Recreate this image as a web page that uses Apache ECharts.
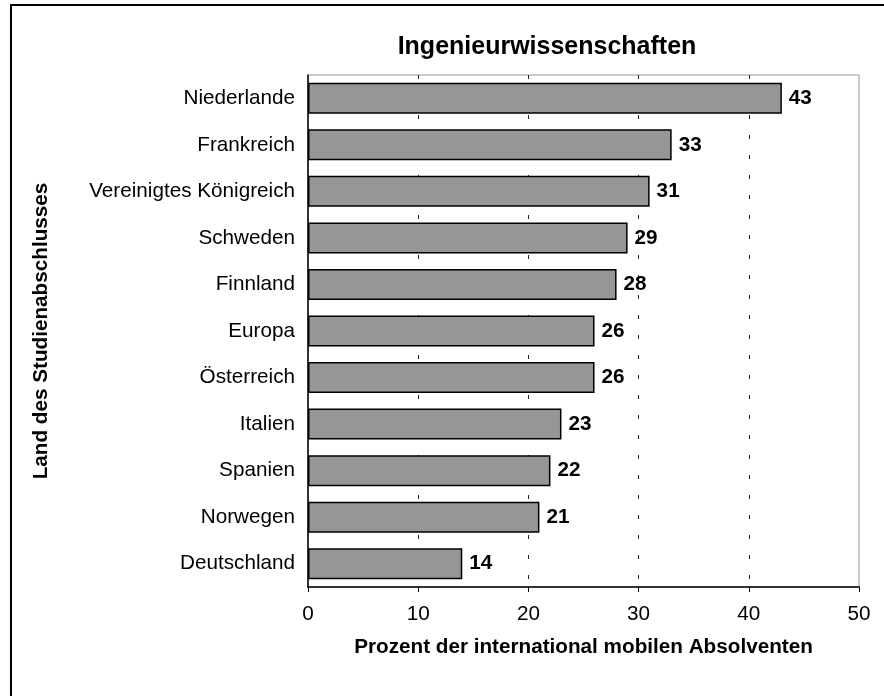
<!DOCTYPE html>
<html>
<head>
<meta charset="utf-8">
<script src="https://cdn.jsdelivr.net/npm/echarts@6/dist/echarts.min.js"></script>
<style>
  html, body { margin: 0; padding: 0; background: #fff; }
  #chart { width: 884px; height: 696px; }
</style>
</head>
<body>
<div id="chart"></div>
<script>
// Länder (von oben nach unten) und Anteile in Prozent
const countries = ["Niederlande", "Frankreich", "Vereinigtes Königreich", "Schweden", "Finnland",
    "Europa", "Österreich", "Italien", "Spanien", "Norwegen", "Deutschland"];
const shares = [43, 33, 31, 29, 28, 26, 26, 23, 22, 21, 14];
const xTicks = [0, 10, 20, 30, 40, 50];

const FONT = "Arial, 'Liberation Sans', sans-serif";
const FS = 20.7; // Grundschriftgröße
const chart = echarts.init(document.getElementById('chart'));

chart.setOption({
    animation: false,
    backgroundColor: '#fff',
    graphic: [
        // äußerer Rahmen (nur links und oben sichtbar)
        { type: 'rect', shape: { x: 11, y: 5, width: 950, height: 760 },
          style: { fill: 'none', stroke: '#000', lineWidth: 2 } },
        { type: 'text', x: 547, y: 47,
          style: { text: 'Ingenieurwissenschaften', font: 'bold 25px ' + FONT,
                   fill: '#000', textAlign: 'center', textVerticalAlign: 'middle' } }
    ],
    grid: {
        left: 308, right: 25, top: 75, bottom: 109,
        show: true, borderColor: '#999', borderWidth: 1
    },
    xAxis: {
        type: 'value',
        min: xTicks[0], max: xTicks[xTicks.length - 1], interval: 10,
        name: 'Prozent der international mobilen Absolventen',
        nameLocation: 'middle', nameGap: 50,
        nameTextStyle: { fontFamily: FONT, fontSize: FS, fontWeight: 'bold', color: '#000' },
        axisLine: { show: true, lineStyle: { color: '#000', width: 1.5 } },
        axisTick: { show: true, length: 5, lineStyle: { color: '#000' } },
        axisLabel: { fontFamily: FONT, fontSize: FS, color: '#000', margin: 17 },
        splitLine: {
            show: true,
            lineStyle: { color: ['transparent', '#222', '#222', '#222', '#222', 'transparent'],
                         type: [4, 16], width: 1 }
        }
    },
    yAxis: {
        type: 'category',
        data: countries,
        inverse: true,
        name: 'Land des Studienabschlusses',
        nameLocation: 'middle', nameRotate: 90, nameGap: 256,
        nameTextStyle: { fontFamily: FONT, fontSize: FS, fontWeight: 'bold', color: '#000' },
        axisLine: { show: true, lineStyle: { color: '#000', width: 1.5 } },
        axisTick: { show: false },
        axisLabel: { fontFamily: FONT, fontSize: FS, color: '#000', margin: 13 },
        splitLine: { show: false }
    },
    series: [{
        type: 'bar',
        data: shares,
        barWidth: 31,
        itemStyle: { color: '#969696', borderColor: '#000', borderWidth: 1.5 },
        label: {
            show: true, position: 'right', distance: 7,
            fontFamily: FONT, fontSize: FS, fontWeight: 'bold', color: '#000'
        }
    }]
});
</script>
</body>
</html>
